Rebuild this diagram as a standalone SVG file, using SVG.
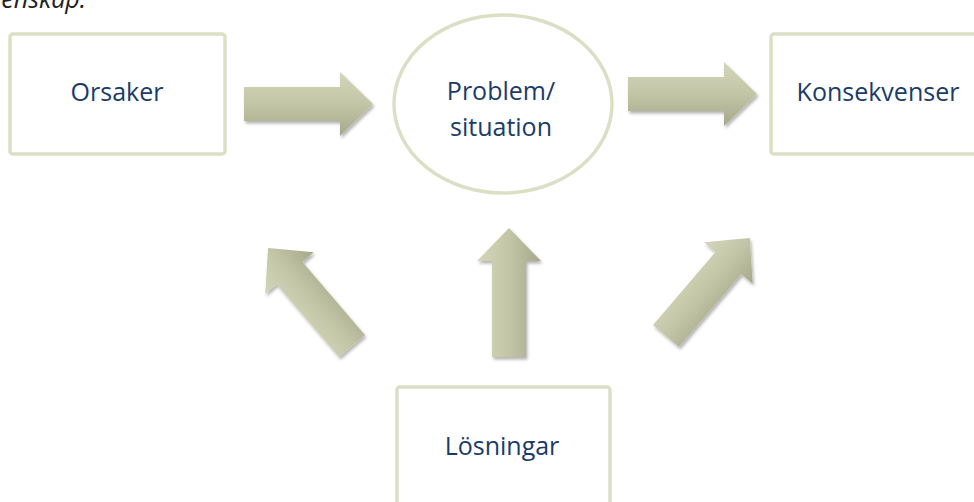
<svg xmlns="http://www.w3.org/2000/svg" xmlns:xlink="http://www.w3.org/1999/xlink" width="974" height="502" viewBox="0 0 974 502">
  <style>
    .box { fill: #ffffff; stroke: #dcdfc6; stroke-width: 3.5; }
    .lbl { font-family: "Open Sans", "Liberation Sans", sans-serif; font-size: 25px; fill: #1b3b68; text-anchor: middle; }
    .top { font-family: "Open Sans", "Liberation Sans", sans-serif; font-size: 25px; font-style: italic; fill: #222222; text-anchor: end; }
    .arrow { fill: url(#arrowGrad); }
  </style>
  <defs>
    <linearGradient id="arrowGrad" gradientUnits="userSpaceOnUse" x1="0" y1="-32" x2="0" y2="32">
      <stop offset="0" stop-color="#d3d6b8"/>
      <stop offset="0.5" stop-color="#c2c5a6"/>
      <stop offset="1" stop-color="#a6a88b"/>
    </linearGradient>
    <polygon id="arr" points="0,-17 96,-17 96,-32 129,0 96,32 96,17 0,17"/>
    <filter id="shadow" x="-20%" y="-20%" width="140%" height="140%">
      <feDropShadow dx="1.5" dy="2.5" stdDeviation="1.8" flood-color="#000000" flood-opacity="0.3"/>
    </filter>
  </defs>

  <text class="top" x="86" y="8">enskap:</text>

  <g id="connectors">
    <g filter="url(#shadow)"><use xlink:href="#arr" class="arrow" transform="translate(244,104)"/></g>
    <g filter="url(#shadow)"><use xlink:href="#arr" class="arrow" transform="translate(628,94)"/></g>
    <g filter="url(#shadow)"><use xlink:href="#arr" class="arrow" transform="translate(509,357) rotate(-90)"/></g>
    <g filter="url(#shadow)"><use xlink:href="#arr" class="arrow" transform="translate(352,346) rotate(-130.6)"/></g>
    <g filter="url(#shadow)"><use xlink:href="#arr" class="arrow" transform="translate(666,336) rotate(-49.5)"/></g>
  </g>

  <g id="orsaker">
    <rect class="box" x="10" y="34" width="215" height="120" rx="3"/>
    <text class="lbl" x="117" y="101">Orsaker</text>
  </g>

  <g id="problem">
    <ellipse class="box" cx="503" cy="104" rx="109" ry="89" stroke-width="3"/>
    <text class="lbl" x="501" y="100">Problem/</text>
    <text class="lbl" x="501" y="136">situation</text>
  </g>

  <g id="konsekvenser">
    <rect class="box" x="771" y="34" width="215" height="120" rx="3"/>
    <text class="lbl" x="878" y="101">Konsekvenser</text>
  </g>

  <g id="losningar">
    <rect class="box" x="397" y="387" width="213" height="120" rx="3"/>
    <text class="lbl" x="502" y="455">Lösningar</text>
  </g>
</svg>
